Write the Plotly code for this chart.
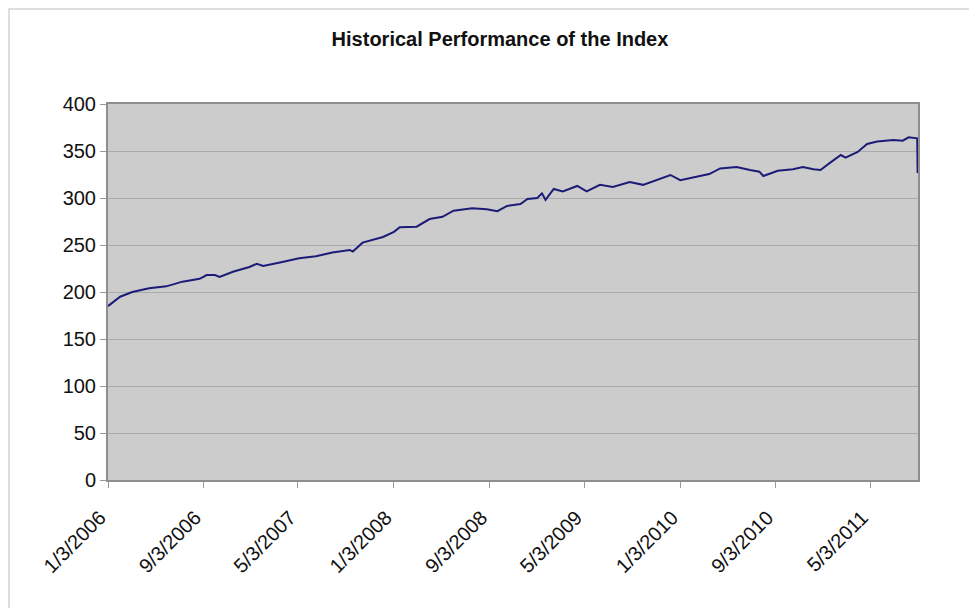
import plotly.graph_objects as go

# Index level
dates = [
    "2006-01-03", "2006-01-20", "2006-02-03", "2006-03-06", "2006-04-18", "2006-06-01",
    "2006-07-12", "2006-08-25", "2006-09-12", "2006-10-03", "2006-10-15", "2006-11-18",
    "2006-12-30", "2007-01-18", "2007-02-03", "2007-03-24", "2007-05-06", "2007-06-18",
    "2007-07-30", "2007-09-12", "2007-09-20", "2007-10-15", "2007-12-06", "2008-01-03",
    "2008-01-18", "2008-03-01", "2008-04-03", "2008-05-06", "2008-06-03", "2008-07-21",
    "2008-08-27", "2008-09-23", "2008-10-18", "2008-11-21", "2008-12-09", "2009-01-03",
    "2009-01-15", "2009-01-24", "2009-02-14", "2009-03-09", "2009-04-15", "2009-05-09",
    "2009-06-12", "2009-07-15", "2009-08-27", "2009-09-30", "2009-11-05", "2009-12-09",
    "2010-01-03", "2010-02-06", "2010-03-18", "2010-04-15", "2010-05-27", "2010-06-30",
    "2010-07-24", "2010-08-03", "2010-09-09", "2010-10-18", "2010-11-12", "2010-12-09",
    "2010-12-27", "2011-01-21", "2011-02-17", "2011-03-01", "2011-04-01", "2011-04-25",
    "2011-05-21", "2011-07-01", "2011-07-25", "2011-08-09", "2011-08-31", "2011-09-01",
]
values = [
    185, 191, 195, 200, 204, 206,
    211, 214, 218, 218, 216, 221.6,
    226.6, 230, 227.6, 232, 236, 238,
    242, 244.7, 243, 252.5, 258.5, 264,
    269, 269.5, 277.6, 280, 286.5, 289,
    288, 286, 291.5, 293.6, 299, 300,
    305, 298, 309.6, 307, 312.8, 307,
    314, 311.7, 317, 314, 319, 324.5,
    319, 322, 325.5, 331.5, 333, 329.8,
    328, 323.4, 329, 330.5, 333, 330.5,
    329.8, 337.6, 345.7, 343, 349, 357.4,
    360, 361.7, 361, 364.6, 363.5, 326.6,
]

tick_dates = ["2006-01-03", "2006-09-03", "2007-05-03", "2008-01-03", "2008-09-03",
              "2009-05-03", "2010-01-03", "2010-09-03", "2011-05-03"]
tick_labels = ["1/3/2006", "9/3/2006", "5/3/2007", "1/3/2008", "9/3/2008",
               "5/3/2009", "1/3/2010", "9/3/2010", "5/3/2011"]
y_ticks = [0, 50, 100, 150, 200, 250, 300, 350, 400]

W, H = 977, 608
OFF = 8  # page body margin offset
L, T = 108 - OFF, 104 - OFF
pw, ph = 810, 376
R = W - L - pw
B = H - T - ph

fig = go.Figure()
fig.add_trace(go.Scatter(
    x=dates, y=values, mode="lines",
    line=dict(color="#1C1C78", width=2),
    showlegend=False,
))

def px_x(p):
    return (p - OFF - L) / pw

def px_y(p):
    return (T + ph - (p - OFF)) / ph

fig.update_layout(
    width=W, height=H,
    margin=dict(l=L, r=R, t=T, b=B),
    paper_bgcolor="white",
    plot_bgcolor="#CCCCCC",
    font=dict(family="Liberation Sans, Arial, sans-serif", size=20, color="#111111"),
    title=dict(
        text="<b>Historical Performance of the Index</b>",
        x=(500 - OFF) / W, xanchor="center", xref="container",
        y=1 - (39 - OFF) / H, yanchor="middle", yref="container",
        font=dict(size=20, color="#111111"),
    ),
    xaxis=dict(
        type="date",
        range=["2006-01-03", "2011-09-02"],
        tickmode="array", tickvals=tick_dates, ticktext=tick_labels,
        tickangle=-45,
        ticks="outside", ticklen=6, tickcolor="#999999", tickwidth=1,
        ticklabelstandoff=10, ticklabelshift=-8,
        showgrid=False, zeroline=False,
        showline=True, linecolor="#8E8E8E", linewidth=2, mirror=True,
        tickfont=dict(size=20),
    ),
    yaxis=dict(
        range=[0, 400],
        tickmode="array", tickvals=y_ticks,
        ticks="outside", ticklen=6, tickcolor="#999999", tickwidth=1,
        showgrid=True, gridcolor="#AAAAAA", gridwidth=1,
        zeroline=False,
        showline=True, linecolor="#8E8E8E", linewidth=2, mirror=True,
        tickfont=dict(size=20),
    ),
    shapes=[dict(
        type="rect", xref="paper", yref="paper",
        x0=px_x(9), x1=px_x(1000), y0=px_y(640), y1=px_y(9),
        line=dict(color="#D4D4D4", width=1.5), fillcolor="rgba(0,0,0,0)",
        layer="below",
    )],
)

fig.write_html("out.html")
